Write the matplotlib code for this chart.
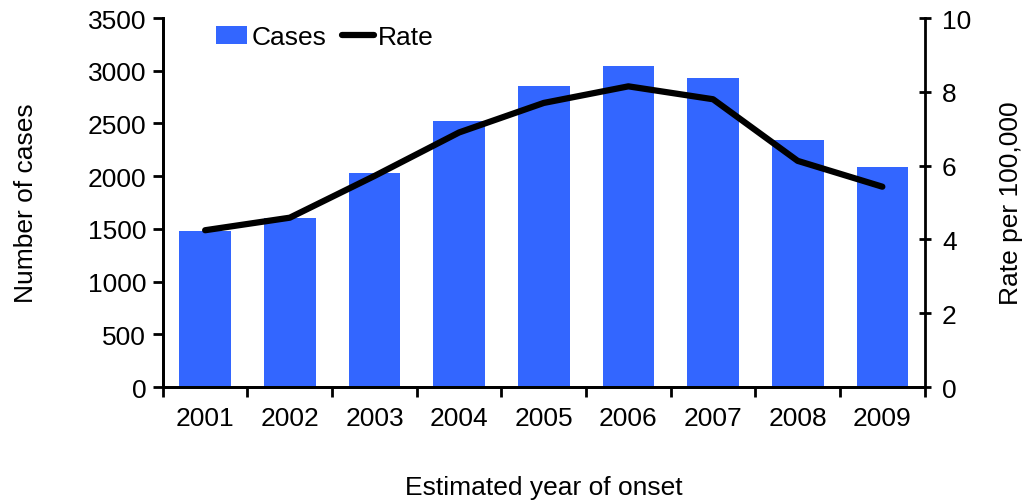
import numpy as np
import matplotlib
matplotlib.use("Agg")
import matplotlib.pyplot as plt

plt.rcParams['font.family'] = ['Liberation Sans', 'DejaVu Sans']

years = ['2001', '2002', '2003', '2004', '2005', '2006', '2007', '2008', '2009']
cases = [1477, 1605, 2033, 2525, 2852, 3043, 2929, 2344, 2087]
rate = [4.25, 4.59, 5.72, 6.90, 7.70, 8.15, 7.80, 6.13, 5.43]

fs = 19

fig = plt.figure(figsize=(10.24, 5.02), dpi=100)
ax = fig.add_axes([0.159, 0.227, 0.744, 0.735])
ax2 = ax.twinx()

x = np.arange(len(years))
bars = ax.bar(x, cases, width=0.61, color='#3366FF', label='Cases', zorder=2)
line, = ax2.plot(x, rate, color='black', lw=4.5, solid_capstyle='round', label='Rate')

ax.set_xlim(-0.5, len(years) - 0.5)
ax.set_ylim(0, 3500)
ax.set_yticks(np.arange(0, 3501, 500))
ax2.set_ylim(0, 10)
ax2.set_yticks(np.arange(0, 11, 2))

ax.set_xticks(x)
ax.set_xticklabels(years)
ax.set_xticks(np.arange(-0.5, len(years), 1), minor=True)
ax.tick_params(axis='x', which='major', length=0, pad=14, labelsize=fs)
ax.tick_params(axis='x', which='minor', length=7, width=2, direction='out')
ax.tick_params(axis='y', length=7, width=2, direction='out', labelsize=fs, pad=5)
ax2.tick_params(axis='y', length=9, width=2, direction='inout', labelsize=fs, pad=8)

for a in (ax, ax2):
    a.spines['top'].set_visible(False)
    for s in ('left', 'right', 'bottom'):
        a.spines[s].set_linewidth(2)
ax.spines['right'].set_visible(False)

ax.set_ylabel('Number of cases', fontsize=fs, labelpad=36)
ax2.set_ylabel('Rate per 100,000', fontsize=fs, labelpad=20)
ax.set_xlabel('Estimated year of onset', fontsize=fs, labelpad=32)

ax.legend([bars, line], ['Cases', 'Rate'], loc='upper left', bbox_to_anchor=(0.038, 1.045),
          ncol=2, frameon=False, fontsize=fs, handlelength=1.2, handletextpad=0.15,
          columnspacing=0.6)

fig.savefig('out.png', dpi=100)
